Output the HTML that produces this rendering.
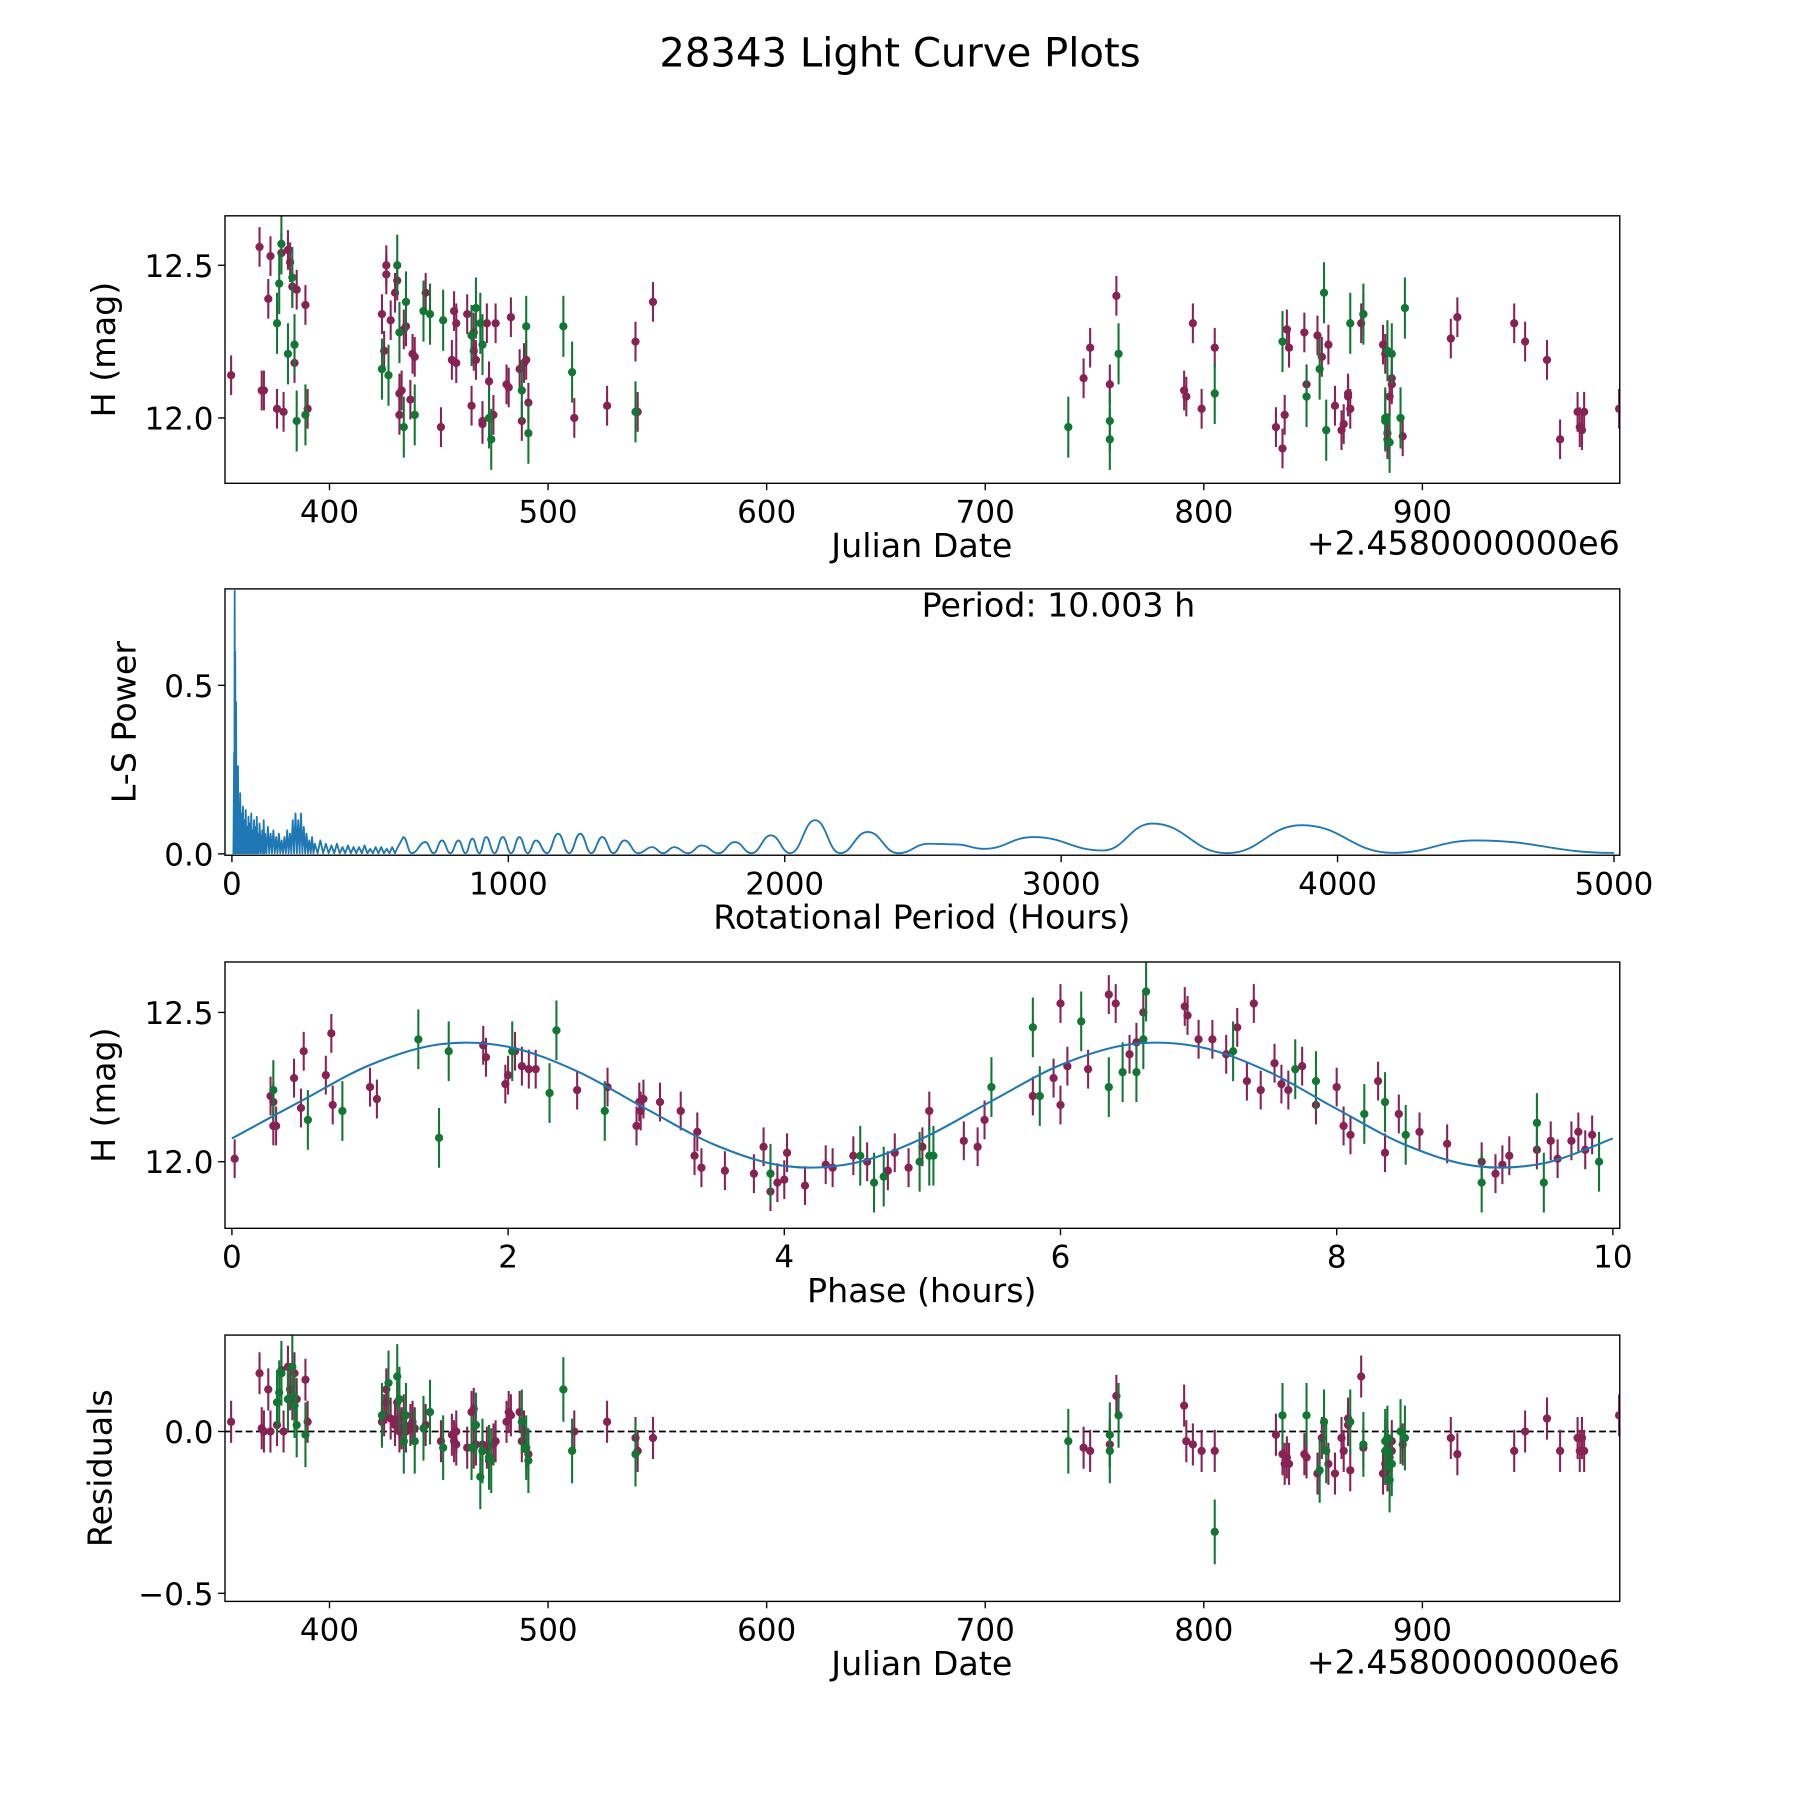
<!DOCTYPE html>
<html><head><meta charset="utf-8"><style>
html,body{margin:0;padding:0;background:#fff;}
svg{display:block;font-family:"DejaVu Sans","Liberation Sans",sans-serif;}
</style></head><body>
<svg id="fig" xmlns="http://www.w3.org/2000/svg" width="1800" height="1800" viewBox="0 0 1568 1568">
<rect width="1568" height="1568" fill="#fff"/>
<text x="784" y="58" font-size="35" text-anchor="middle">28343 Light Curve Plots</text>
</svg>
<script>
// ---------- data ----------
const mJD=[355,368,369,370,372,373,376,378,379,381,382,383,384,385,389,390,
424,425,426,426,428,430,431,432,432,433,434,435,437,438,439,444,451,456,457,458,458,463,465,466,466,467,470,470,472,473,475,476,481,482,483,487,488,489,490,491,527,512,540,541,548,
745,748,757,760,791,792,795,799,805,833,836,837,838,839,846,847,852,854,857,860,863,864,866,866,867,872,873,882,883,884,884,885,886,886,891,913,916,942,947,957,963,971,972,973,974,990];
const mMag=[12.14,12.56,12.09,12.09,12.39,12.53,12.03,12.54,12.02,12.55,12.51,12.43,12.18,12.42,12.37,12.03,
12.34,12.22,12.5,12.47,12.32,12.41,12.45,12.01,12.08,12.09,12.29,12.3,12.06,12.21,12.2,12.41,11.97,12.19,12.35,12.31,12.18,12.34,12.04,12.28,12.22,12.19,11.99,11.98,12.31,12.12,12.01,12.31,12.11,12.1,12.33,12.16,11.99,12.18,12.19,12.05,12.04,12.0,12.25,12.02,12.38,
12.13,12.23,12.11,12.4,12.09,12.07,12.31,12.03,12.23,11.97,11.9,12.01,12.29,12.23,12.28,12.11,12.27,12.2,12.24,12.04,11.96,11.98,12.08,12.07,12.03,12.31,12.34,12.24,12.21,11.95,11.93,12.07,12.11,12.13,11.94,12.26,12.33,12.31,12.25,12.19,11.93,12.02,11.97,11.96,12.02,12.03];
const mRes=[0.03,0.18,0.01,0.0,0.13,0.0,0.02,0.19,0.0,0.2,0.13,0.1,0.18,0.1,0.16,0.03,
0.03,0.05,0.09,0.13,0.04,0.02,0.09,0.0,0.04,0.01,0.05,0.0,0.02,0.03,0.01,0.02,-0.03,-0.01,-0.03,0.0,-0.04,-0.05,0.06,-0.05,0.07,-0.04,-0.06,-0.04,-0.05,-0.09,-0.04,-0.03,0.03,0.06,0.05,0.06,-0.03,0.0,-0.05,-0.07,0.03,0.0,-0.02,-0.06,-0.02,
-0.05,-0.06,-0.04,0.11,0.08,-0.03,-0.04,-0.06,-0.06,-0.01,-0.07,-0.1,-0.08,-0.1,-0.07,-0.08,-0.13,-0.02,-0.1,-0.13,-0.02,-0.06,0.04,0.02,-0.12,0.17,-0.05,-0.13,-0.1,-0.05,-0.12,-0.08,-0.03,-0.06,-0.04,-0.02,-0.07,-0.06,0.0,0.04,-0.06,-0.02,-0.06,-0.02,-0.06,0.05];
const gJD=[376,377,378,381,383,384,385,389,
424,427,431,432,434,435,439,443,446,452,465,467,469,470,473,474,488,490,491,507,511,540,
738,757,757,761,805,836,847,853,855,856,867,873,883,884,886,883,885,890,892];
const gMag=[12.31,12.44,12.57,12.21,12.46,12.24,11.99,12.01,
12.16,12.14,12.5,12.28,11.97,12.38,12.01,12.35,12.34,12.32,12.27,12.36,12.31,12.24,12.0,11.93,12.09,12.3,11.95,12.3,12.15,12.02,
11.97,11.99,11.93,12.21,12.08,12.25,12.07,12.16,12.41,11.96,12.31,12.34,12.0,12.22,12.21,11.99,11.92,12.0,12.36];
const gRes=[0.09,0.12,0.18,0.1,0.2,0.08,0.02,-0.01,
0.05,0.15,0.17,0.1,-0.03,0.05,-0.03,0.01,0.06,-0.05,-0.05,0.02,-0.14,-0.06,-0.08,-0.09,0.03,-0.05,-0.09,0.13,-0.06,-0.07,
-0.03,-0.01,-0.06,0.05,-0.31,0.05,0.05,-0.12,0.03,-0.06,0.03,-0.04,-0.03,-0.02,-0.1,-0.06,-0.15,0.0,-0.02];
const mErr=0.065, gErr=0.1;

const mPhase=[0.02,0.28,0.3,0.3,0.32,0.45,0.5,0.52,0.68,0.72,0.73,1.0,1.05,1.82,1.84,1.98,2.0,2.05,2.1,2.15,2.2,2.5,2.72,2.93,2.95,2.96,2.98,3.1,3.25,3.35,3.37,3.4,3.57,3.78,3.85,3.9,3.95,4.0,4.02,4.15,4.3,4.35,4.5,4.6,4.75,4.8,4.9,5.0,5.05,5.3,5.4,5.45,5.8,5.95,6.0,6.05,6.0,6.2,6.35,6.4,6.5,6.55,6.6,6.9,6.92,7.0,7.1,7.2,7.28,7.35,7.4,7.45,7.55,7.6,7.65,7.75,7.85,8.0,8.05,8.1,8.3,8.35,8.45,8.6,8.8,9.05,9.15,9.2,9.25,9.45,9.55,9.6,9.7,9.75,9.8,9.85];
const mPhaseMag=[12.01,12.22,12.2,12.12,12.12,12.28,12.18,12.37,12.29,12.43,12.19,12.25,12.21,12.39,12.35,12.26,12.29,12.37,12.32,12.31,12.31,12.24,12.25,12.12,12.2,12.17,12.21,12.2,12.17,12.02,12.1,11.98,11.97,11.96,12.05,11.9,11.93,11.94,12.03,11.92,11.99,11.98,12.02,12.0,11.97,12.03,11.98,12.05,12.17,12.07,12.05,12.14,12.22,12.28,12.19,12.32,12.53,12.31,12.56,12.53,12.36,12.4,12.5,12.52,12.49,12.41,12.41,12.36,12.45,12.27,12.53,12.24,12.33,12.26,12.24,12.32,12.19,12.25,12.12,12.09,12.27,12.03,12.16,12.1,12.06,12.0,11.96,11.99,12.02,12.04,12.07,12.01,12.07,12.1,12.04,12.09];
const gPhase=[0.3,0.55,0.8,1.35,1.5,1.57,2.03,2.3,2.35,2.7,3.9,4.55,4.65,4.72,4.98,5.05,5.08,5.5,5.8,5.85,6.15,6.35,6.45,6.55,6.6,6.62,7.25,7.7,7.85,8.2,8.35,8.5,9.05,9.45,9.5,9.9];
const gPhaseMag=[12.24,12.14,12.17,12.41,12.08,12.37,12.37,12.23,12.44,12.17,11.96,12.02,11.93,11.95,12.0,12.02,12.02,12.25,12.45,12.22,12.47,12.25,12.3,12.3,12.41,12.57,12.37,12.31,12.27,12.16,12.2,12.09,11.93,12.13,11.93,12.0];
const fitPhase=[0,0.5,1,1.5,2,2.5,3,3.5,4,4.5,5,5.5,6,6.5,7,7.5,8,8.5,9,9.5,10];
const fitMag=[12.078,12.203,12.324,12.393,12.385,12.303,12.177,12.056,11.986,11.995,12.078,12.203,12.324,12.393,12.385,12.303,12.177,12.056,11.986,11.995,12.078];

const spikePeriod=[3,8,10,12,15,18,22,26,30,35,40,45,50,55,60,65,70,75,80,85,90,95,100,110,115,120,130,140,150,160,170,180,190,200,210,220,230,240,250,260,270,280,290,300,320,340,360,380,400,420,440,460,480,500,520,540,560,580,600];
const spikePower=[0.0,0.3,0.78,0.6,0.45,0.2,0.26,0.15,0.18,0.12,0.14,0.1,0.13,0.08,0.11,0.09,0.12,0.07,0.1,0.08,0.11,0.06,0.09,0.07,0.1,0.06,0.08,0.06,0.07,0.05,0.06,0.04,0.05,0.07,0.06,0.1,0.12,0.1,0.12,0.08,0.06,0.04,0.05,0.03,0.04,0.03,0.025,0.03,0.02,0.025,0.02,0.02,0.025,0.015,0.02,0.02,0.015,0.02,0.02];
const wavePeriod=[620,650,700,730,760,790,820,845,870,895,920,950,980,1010,1040,1070,1100,1140,1180,1220,1260,1300,1340,1380,1420,1470,1520,1560,1600,1650,1700,1760,1820,1880,1950,2020,2110,2200,2300,2410,2520,2620,2720,2900,3150,3330,3600,3870,4200,4500,5000];
const wavePower=[0.05,0.002,0.035,0.002,0.04,0.002,0.04,0.002,0.045,0.002,0.05,0.002,0.05,0.002,0.05,0.002,0.04,0.002,0.06,0.002,0.06,0.002,0.05,0.002,0.04,0.002,0.02,0.002,0.02,0.002,0.025,0.002,0.035,0.002,0.055,0.002,0.1,0.002,0.065,0.002,0.03,0.028,0.015,0.05,0.01,0.09,0.002,0.085,0.003,0.04,0.003];

const ticksJD=[400,500,600,700,800,900];
const ticksMag=[12.0,12.5];
const ticksPower=[0.0,0.5];
const ticksPeriod=[0,1000,2000,3000,4000,5000];
const ticksPhase=[0,2,4,6,8,10];
const ticksRes=[-0.5,0.0];

// ---------- drawing ----------
const NS='http://www.w3.org/2000/svg';
const svg=document.getElementById('fig');
const MAROON='#882255', GREEN='#117733', BLUE='#1f77b4';
function mk(tag,attrs,parent){const e=document.createElementNS(NS,tag);for(const k in attrs)e.setAttribute(k,attrs[k]);(parent||svg).appendChild(e);return e;}
function scale(d0,d1,p0,p1){return v=>p0+(v-d0)/(d1-d0)*(p1-p0);}
const L=196,R=1411;
function panel(name,top,bot,xd,yd,xticks,yticks,xfmt,yfmt,xlabel,ylabel,ylx){
  const g=mk('g',{});
  
  
  const sx=scale(xd[0],xd[1],L,R), sy=scale(yd[0],yd[1],bot,top);
  xticks.forEach(t=>{const x=sx(t);
    mk('line',{x1:x,x2:x,y1:bot,y2:bot+6,stroke:'#000','stroke-width':1.2},g);
    const tx=mk('text',{x:x,y:bot+34,'font-size':27,'text-anchor':'middle'},g);tx.textContent=xfmt(t);
    
    });
  yticks.forEach(t=>{const y=sy(t);
    mk('line',{x1:L-6,x2:L,y1:y,y2:y,stroke:'#000','stroke-width':1.2},g);
    const tx=mk('text',{x:L-10,y:y+10,'font-size':27,'text-anchor':'end'},g);tx.textContent=yfmt(t);
    
    });
  const xl=mk('text',{x:803,y:bot+64,'font-size':29,'text-anchor':'middle'},g);xl.textContent=xlabel;
  
  
  const cy=(top+bot)/2;
  const yl=mk('text',{x:ylx,y:cy,'font-size':29,'text-anchor':'middle',transform:`rotate(-90 ${ylx} ${cy})`},g);yl.textContent=ylabel;
  
  
  const clip='c'+name;
  const cp=mk('clipPath',{id:clip},g);mk('rect',{x:L,y:top,width:R-L,height:bot-top},cp);
  const plot=mk('g',{'clip-path':`url(#${clip})`},g);
  return {g,plot,sx,sy,frame:()=>mk('rect',{x:L,y:top,width:R-L,height:bot-top,fill:'none',stroke:'#000','stroke-width':1.2},g)};
}
function errpts(p,xs,ys,err,color,name){
  xs.forEach((xv,i)=>{const x=p.sx(xv),y=p.sy(ys[i]);
    const ln=mk('line',{x1:x,x2:x,y1:p.sy(ys[i]-err),y2:p.sy(ys[i]+err),stroke:color,'stroke-width':1.8},p.plot);
    
    
    const c=mk('circle',{cx:x,cy:y,r:3.6,fill:color},p.plot);
    
    });
}
const f1=v=>v.toFixed(1), f0=v=>String(v);
const offset=(y)=>{const t=mk('text',{x:R,y:y,'font-size':29,'text-anchor':'end'});t.textContent='+2.4580000000e6';
  
  };

// Panel 1
const p1=panel('raw-light-curve-panel',188,421,[352.2,990.3],[11.786,12.662],ticksJD,ticksMag,f0,f1,'Julian Date','H (mag)',100);
errpts(p1,mJD,mMag,mErr,MAROON,'maroon-filter');
errpts(p1,gJD,gMag,gErr,GREEN,'green-filter');
p1.frame();offset(483);

// Panel 2
const p2=panel('periodogram-panel',513,745,[-25,5021],[-0.004,0.786],ticksPeriod,ticksPower,f0,f1,'Rotational Period (Hours)','L-S Power',118);
let d='';
spikePeriod.forEach((pv,i)=>{
  if(i>0){const mid=(spikePeriod[i-1]+pv)/2; d+=`L${p2.sx(mid)},${p2.sy(0.002)}`;}
  d+=(i?'L':'M')+p2.sx(pv)+','+p2.sy(spikePower[i]);});
const wx=wavePeriod.map(p2.sx), wy=wavePower.map(p2.sy);
d+=`L${wx[0]},${wy[0]}`;
for(let i=0;i<wx.length-1;i++){
  const x0=wx[i],x1=wx[i+1],dx=(x1-x0)/2.2;
  d+=`C${x0+dx},${wy[i]} ${x1-dx},${wy[i+1]} ${x1},${wy[i+1]}`;}
const pl=mk('path',{d:d,fill:'none',stroke:BLUE,'stroke-width':1.6,'stroke-linejoin':'round'},p2.plot);


p2.frame();
const pt=mk('text',{x:922,y:537,'font-size':29,'text-anchor':'middle'});pt.textContent='Period: 10.003 h';



// Panel 3
const p3=panel('phase-folded-panel',838,1070,[-0.05,10.05],[11.777,12.669],ticksPhase,ticksMag,f0,f1,'Phase (hours)','H (mag)',100);
errpts(p3,mPhase,mPhaseMag,mErr,MAROON,'maroon-phase');
errpts(p3,gPhase,gPhaseMag,gErr,GREEN,'green-phase');
const fx=fitPhase.map(p3.sx), fy=fitMag.map(p3.sy);
let fd=`M${fx[0]},${fy[0]}`;
for(let i=0;i<fx.length-1;i++){
  const p0=i>0?i-1:i, p3i=i+2<fx.length?i+2:i+1;
  const c1x=fx[i]+(fx[i+1]-fx[p0])/6, c1y=fy[i]+(fy[i+1]-fy[p0])/6;
  const c2x=fx[i+1]-(fx[p3i]-fx[i])/6, c2y=fy[i+1]-(fy[p3i]-fy[i])/6;
  fd+=`C${c1x},${c1y} ${c2x},${c2y} ${fx[i+1]},${fy[i+1]}`;}
const fl=mk('path',{d:fd,fill:'none',stroke:BLUE,'stroke-width':1.8},p3.plot);


p3.frame();

// Panel 4
const p4=panel('residuals-panel',1163,1395,[352.2,990.3],[-0.525,0.298],ticksJD,ticksRes,f0,v=>v<0?'\u2212'+Math.abs(v).toFixed(1):v.toFixed(1),'Julian Date','Residuals',97);
const zl=mk('line',{x1:L,x2:R,y1:p4.sy(0),y2:p4.sy(0),stroke:'#000','stroke-width':1.5,'stroke-dasharray':'6,3'},p4.plot);


errpts(p4,mJD,mRes,mErr,MAROON,'maroon-residual');
errpts(p4,gJD,gRes,gErr,GREEN,'green-residual');
p4.frame();offset(1458);
</script>
</body></html>
